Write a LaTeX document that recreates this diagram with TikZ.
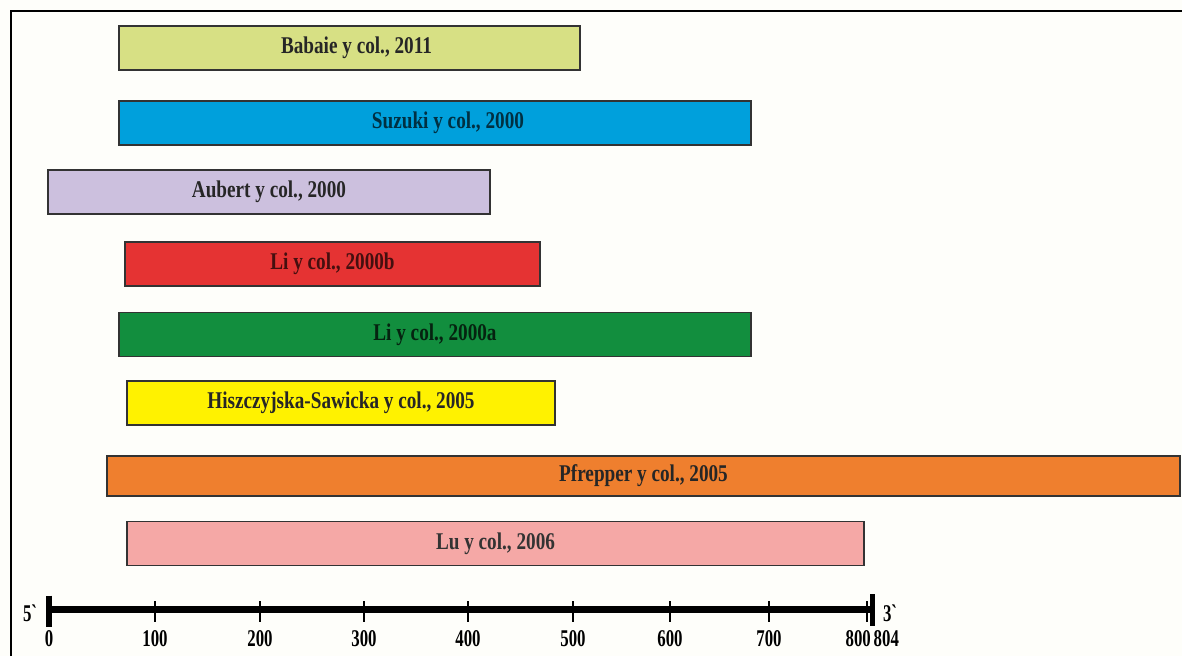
\documentclass[tikz,border=0pt]{standalone}
\usepackage{fontspec}
\setmainfont{Liberation Serif}[BoldFeatures={FakeStretch=0.8}]
\newfontfamily\numfont{Liberation Serif Bold}[FakeStretch=0.7]
\usetikzlibrary{positioning,calc}

\definecolor{babaiecol}{RGB}{215,224,132}
\definecolor{suzukicol}{RGB}{0,160,220}
\definecolor{aubertcol}{RGB}{204,192,222}
\definecolor{libcol}{RGB}{229,51,51}
\definecolor{liacol}{RGB}{18,142,62}
\definecolor{hiszcol}{RGB}{255,242,0}
\definecolor{pfreppercol}{RGB}{239,127,46}
\definecolor{lucol}{RGB}{245,168,166}
\definecolor{paper}{RGB}{254,254,250}

\begin{document}
\begin{tikzpicture}
[x=1pt,y=-1pt,
 bar/.style = {draw=black!80, line width=1.3pt, rectangle, inner sep=0pt,
   minimum height=44pt, font=\bfseries\fontsize{24}{24}\selectfont},
 tick/.style = {line width=2pt},
 endbar/.style = {line width=5.5pt},
 num/.style = {font=\numfont\fontsize{24}{24}\selectfont, inner sep=0pt},]
\useasboundingbox (0,0) rectangle (1182,656);
\fill[paper] (0,0) rectangle (1182,656);
% frame
\draw[line width=2pt] (11,656) -- (11,11) -- (1182,11);

% bars
\node (babaie) at (349.5,48)[bar,fill=babaiecol,minimum width=461pt,text=black!85] {\hspace{14pt}Babaie y col., 2011};
\node (suzuki) at (435,123)[bar,fill=suzukicol,minimum width=632pt,text=black!70!suzukicol] {\hspace{26pt}Suzuki y col., 2000};
\node (aubert) at (269,192)[bar,fill=aubertcol,minimum width=442pt,text=black!85] {Aubert y col., 2000};
\node (lib) at (332.5,264)[bar,fill=libcol,minimum width=415pt,text=black!70!libcol] {Li y col., 2000b};
\node (lia) at (435,334.5)[bar,fill=liacol,minimum width=632pt,text=black!75!liacol] {Li y col., 2000a};
\node (hisz) at (341,403)[bar,fill=hiszcol,minimum width=428pt,text=black!85] {Hiszczyjska-Sawicka y col., 2005};
\node (pfrepper) at (643.5,476)[bar,fill=pfreppercol,minimum width=1073pt,minimum height=40pt,text=black!85] {Pfrepper y col., 2005\hspace{20pt}};
\node (lu) at (495.5,543.5)[bar,fill=lucol,minimum width=737pt,text=black!80] {Lu y col., 2006};

% axis
\coordinate (a0) at (49,609.5);
\coordinate (a804) at (872.5,609.5);
\draw[line width=7.5pt] (a0) -- (a804);
\foreach \v/\xx in {100/155,200/260,300/364,400/468,500/573,600/670,700/769}
{
\draw[tick] (\xx,601) -- (\xx,622);
\node (n\v) at (\xx,638.5)[num] {\v};
}
\draw[tick] (867,601) -- (867,622);
\draw[endbar] ($(a0)+(0,-14)$) -- ($(a0)+(0,17)$);
\draw[endbar] ($(a804)+(0,-15.5)$) -- ($(a804)+(0,16)$);
\node (n0) at (49,638.5)[num] {0};
\node (n800) at (871,638.5)[num,anchor=east] {800};
\node (n804) at (873.5,638.5)[num,anchor=west] {804};
\node (five) at (30,613)[num] {5\char"60};
\node (three) at (890,613)[num] {3\char"60};
\end{tikzpicture}
\end{document}
